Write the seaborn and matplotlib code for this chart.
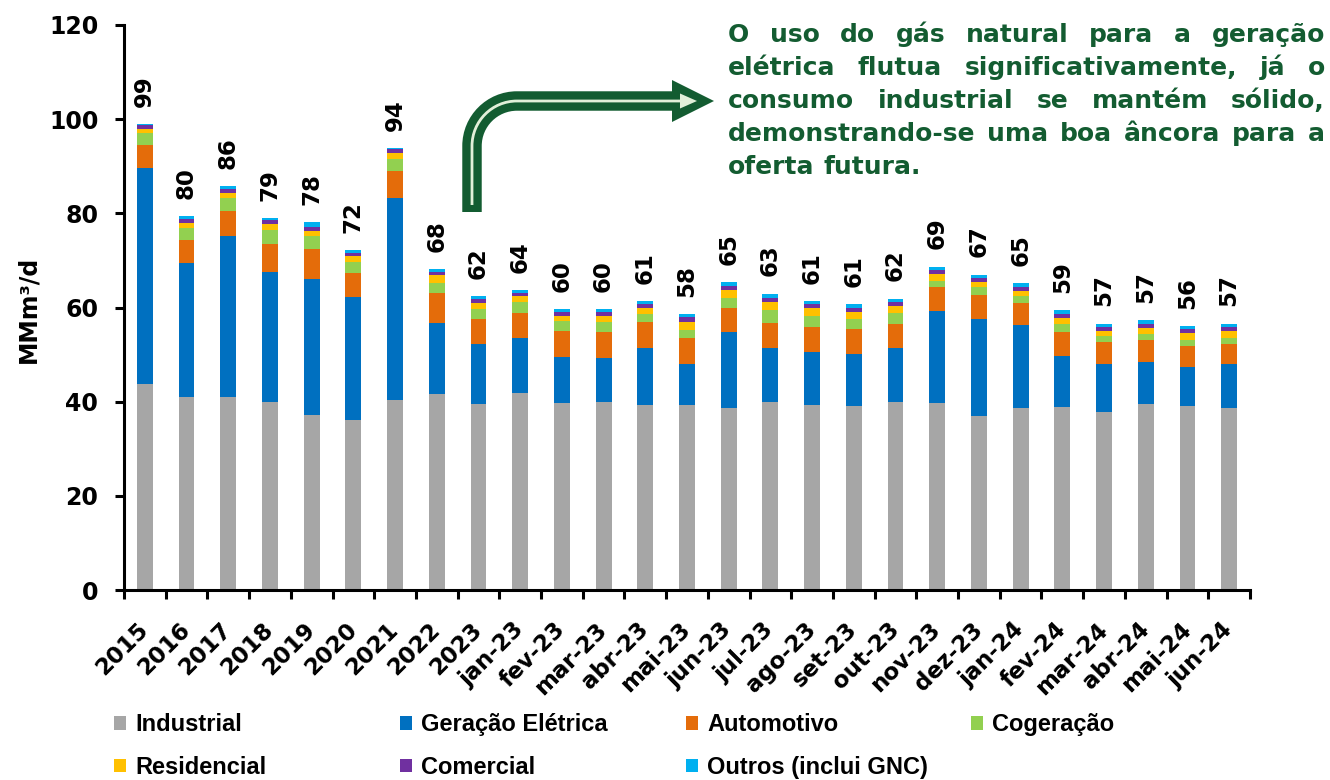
import numpy as np
import pandas as pd
import matplotlib
matplotlib.use("Agg")
import matplotlib.pyplot as plt
import seaborn as sns
from matplotlib.patches import Patch, Polygon, PathPatch
from matplotlib.path import Path

categories = ['2015', '2016', '2017', '2018', '2019', '2020', '2021', '2022', '2023',
              'jan-23', 'fev-23', 'mar-23', 'abr-23', 'mai-23', 'jun-23', 'jul-23',
              'ago-23', 'set-23', 'out-23', 'nov-23', 'dez-23', 'jan-24', 'fev-24',
              'mar-24', 'abr-24', 'mai-24', 'jun-24']

industrial = [43.8, 41.0, 40.9, 39.9, 37.2, 36.1, 40.4, 41.6, 39.5, 41.8, 39.8, 39.9, 39.2, 39.3,
              38.7, 39.9, 39.2, 39.1, 39.9, 39.7, 36.9, 38.7, 38.8, 37.7, 39.4, 39.0, 38.7]
geracao = [45.9, 28.5, 34.3, 27.7, 28.9, 26.1, 42.8, 15.2, 12.7, 11.8, 9.7, 9.3, 12.3, 8.8,
           16.1, 11.6, 11.4, 11.0, 11.4, 19.6, 20.6, 17.5, 11.0, 10.4, 9.1, 8.3, 9.2]
automotivo = [4.8, 4.9, 5.4, 5.9, 6.3, 5.2, 5.8, 6.3, 5.4, 5.2, 5.5, 5.7, 5.4, 5.5,
              5.2, 5.3, 5.3, 5.3, 5.3, 5.1, 5.2, 4.8, 4.9, 4.6, 4.5, 4.6, 4.4]
cogeracao = [2.5, 2.5, 2.6, 3.0, 2.7, 2.2, 2.5, 2.2, 2.0, 2.4, 2.1, 2.1, 1.8, 1.7,
             2.1, 2.7, 2.4, 2.1, 2.2, 1.3, 1.7, 1.4, 1.9, 1.3, 1.4, 1.3, 1.2]
residencial = [0.9, 1.0, 1.1, 1.2, 1.2, 1.3, 1.4, 1.5, 1.4, 1.2, 1.2, 1.3, 1.3, 1.7,
               1.6, 1.7, 1.6, 1.6, 1.5, 1.5, 1.1, 1.1, 1.2, 1.1, 1.3, 1.4, 1.6]
comercial = [0.9, 1.0, 0.9, 0.9, 0.9, 0.7, 0.8, 0.8, 0.9, 0.7, 0.8, 0.7, 0.8, 0.9,
             0.9, 0.9, 0.9, 0.9, 0.9, 0.8, 0.8, 0.9, 0.9, 0.8, 0.9, 0.9, 0.8]
outros = [0.1, 0.5, 0.5, 0.4, 0.9, 0.6, 0.2, 0.5, 0.5, 0.6, 0.5, 0.7, 0.6, 0.7,
          0.8, 0.8, 0.6, 0.7, 0.7, 0.7, 0.7, 0.7, 0.7, 0.7, 0.7, 0.6, 0.7]
total_labels = [99, 80, 86, 79, 78, 72, 94, 68, 62, 64, 60, 60, 61, 58, 65, 63, 61, 61, 62,
                69, 67, 65, 59, 57, 57, 56, 57]

series_names = ['Industrial', 'Geração Elétrica', 'Automotivo', 'Cogeração',
                'Residencial', 'Comercial', 'Outros (inclui GNC)']
series_colors = ['#A6A6A6', '#0070C0', '#E46C0A', '#92D050', '#FFC000', '#7030A0', '#00B0F0']
y_ticks = [0, 20, 40, 60, 80, 100, 120]

annotation_lines = ['O uso do gás natural para a geração',
                    'elétrica flutua significativamente, já o',
                    'consumo industrial se mantém sólido,',
                    'demonstrando-se uma boa âncora para a',
                    'oferta futura.']

W, H = 1330, 780
sns.set_style("ticks")
plt.rcParams['font.family'] = ['DejaVu Sans']
for key in ['text.color', 'axes.labelcolor', 'xtick.color', 'ytick.color', 'axes.edgecolor']:
    plt.rcParams[key] = 'black'

fig = plt.figure(figsize=(W / 100, H / 100), dpi=100)
ax = fig.add_axes([124 / W, 1 - 590 / H, (1250 - 124) / W, (590 - 25) / H])

series = [industrial, geracao, automotivo, cogeracao, residencial, comercial, outros]
cum = np.cumsum(np.array(series), axis=0)
df = pd.DataFrame({'cat': categories})
# draw cumulative layers from the top one down (stacked look)
for k in range(len(series) - 1, -1, -1):
    df['v'] = cum[k]
    sns.barplot(data=df, x='cat', y='v', order=categories, color=series_colors[k],
                saturation=1, width=0.38, errorbar=None, linewidth=0, ax=ax)

ax.set_xlim(-0.5, len(categories) - 0.5)
ax.set_ylim(0, 120)
ax.set_yticks(y_ticks)
ax.set_yticklabels([str(v) for v in y_ticks], fontsize=17, fontweight='bold')
ax.set_xticks(range(len(categories)))
ax.set_xticklabels(categories, rotation=45, ha='right', va='center',
                   rotation_mode='anchor', fontsize=16.5, fontweight='bold')
ax.set_xticks(np.arange(-0.5, len(categories), 1), minor=True)
ax.tick_params(axis='x', which='major', length=0, pad=26)
ax.tick_params(axis='x', which='minor', length=6.5, width=2.2, direction='out', color='black')
ax.tick_params(axis='y', length=6.5, width=2.2, direction='out', color='black', pad=12)
for s in ['top', 'right']:
    ax.spines[s].set_visible(False)
for s in ['left', 'bottom']:
    ax.spines[s].set_linewidth(2.2)
    ax.spines[s].set_color('black')
ax.set_xlabel('')
ax.set_ylabel('MMm³/d', fontsize=17, fontweight='bold')
ax.yaxis.set_label_coords(-0.0746, 0.496)

for i, t in enumerate(total_labels):
    ax.annotate(str(t), xy=(i, cum[-1][i]), xytext=(0, 12.5), textcoords='offset points',
                rotation=90, ha='center', va='bottom', fontsize=16.5, fontweight='bold')

# legend (4 columns x 2 rows)
col_x = [114, 400, 686, 971]
legend_font = {'family': ['Liberation Sans', 'DejaVu Sans'], 'weight': 'bold', 'size': 17}
for c in range(4):
    idx = [c, c + 4] if c + 4 < len(series_names) else [c]
    handles = [Patch(facecolor=series_colors[j], edgecolor='none') for j in idx]
    labels = [series_names[j] for j in idx]
    if len(idx) == 1:
        handles.append(Patch(facecolor='none', edgecolor='none'))
        labels.append(' ')
    fig.legend(handles, labels, loc='center left', bbox_to_anchor=(col_x[c] / W, 1 - 746 / H),
               frameon=False, prop=legend_font, handlelength=0.51, handleheight=0.51,
               handletextpad=0.38, labelspacing=0.83, borderpad=0, borderaxespad=0)

# overlay in pixel coordinates for arrow and text
ov = fig.add_axes([0, 0, 1, 1], zorder=5)
ov.set_xlim(0, W)
ov.set_ylim(H, 0)
ov.axis('off')
ov.patch.set_alpha(0)

dark = '#135C31'
light = '#E2F0D9'
k = 0.5523
R = 45
xv, yh = 472, 101
verts = [(xv, 212), (xv, yh + R), (xv, yh + R - R * k), (xv + R - R * k, yh), (xv + R, yh), (676, yh)]
codes = [Path.MOVETO, Path.LINETO, Path.CURVE4, Path.CURVE4, Path.CURVE4, Path.LINETO]
ov.add_patch(PathPatch(Path(verts, codes), facecolor='none', edgecolor=dark, lw=14, capstyle='butt'))
ov.add_patch(Polygon([(672, 80), (714, yh), (672, 122)], closed=True, facecolor=dark, edgecolor='none'))
verts2 = [(xv, 205), (xv, yh + R), (xv, yh + R - R * k), (xv + R - R * k, yh), (xv + R, yh), (690, yh)]
ov.add_patch(PathPatch(Path(verts2, codes), facecolor='none', edgecolor=light, lw=2, capstyle='butt'))
ov.add_patch(Polygon([(680, 93.5), (697, yh), (680, 108.5)], closed=True, facecolor=light, edgecolor='none'))

# justified annotation text
fig.canvas.draw()
rend = fig.canvas.get_renderer()
x0, x1 = 728, 1325
base_size = 18


def wwidth(s, size):
    t = ov.text(0, 0, s, fontsize=size, fontweight='bold')
    w = t.get_window_extent(rend).width
    t.remove()
    return w


nat = max(wwidth(l, base_size) for l in annotation_lines)
size = min(base_size, base_size * (x1 - x0) / nat)
baselines = [42, 75, 108, 141, 174]
space_w = wwidth('a a', size) - 2 * wwidth('a', size)
for li, line in enumerate(annotation_lines):
    words = line.split()
    widths = [wwidth(w, size) for w in words]
    if li < len(annotation_lines) - 1 and len(words) > 1:
        gap = (x1 - x0 - sum(widths)) / (len(words) - 1)
    else:
        gap = space_w
    x = x0
    for w, wd in zip(words, widths):
        ov.text(x, baselines[li], w, fontsize=size, fontweight='bold', color=dark,
                ha='left', va='baseline')
        x += wd + gap

fig.savefig('out.png', dpi=100)
